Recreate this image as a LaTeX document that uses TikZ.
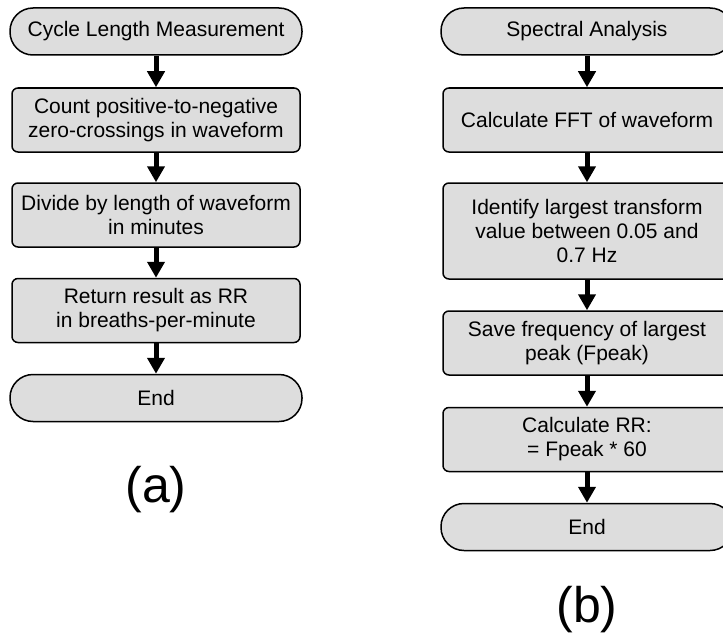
\documentclass[tikz,border=0pt]{standalone}
\usepackage{fontspec}
\setmainfont{Liberation Sans}
\usepackage{tikz}
\usetikzlibrary{positioning,arrows.meta}
\definecolor{boxgray}{RGB}{221,221,221}

\begin{document}
\begin{tikzpicture}[x=1pt,y=-1pt,>={Triangle[width=17pt,length=16pt]},
    blk/.style={draw,fill=boxgray,line width=1.5pt,rounded corners=6pt,minimum width=288pt,
      minimum height=64pt,align=center,inner sep=2pt,font=\fontsize{21}{24}\selectfont},
    term/.style={draw,fill=boxgray,line width=1.5pt,rounded corners=23pt,minimum width=292pt,
      minimum height=47pt,inner sep=2pt,font=\fontsize{21}{24}\selectfont},
    flow/.style={->,line width=5pt},
    lbl/.style={font=\fontsize{50}{56}\selectfont}]
  \useasboundingbox (0,0) rectangle (723,634);
  \clip (0,0) rectangle (723,634);
  % (a) cycle length
  \node[term] (cs) at (156,31.5) {Cycle Length Measurement};
  \node[blk] (cnt) at (156,120) {Count positive-to-negative\\zero-crossings in waveform};
  \node[blk] (dv) at (156,215) {Divide by length of waveform\\in minutes};
  \node[blk] (ret) at (156,310.5) {Return result as RR\\in breaths-per-minute};
  \node[term] (ce) at (156,398) {End};
  \node[lbl] (la) at (156,490) {(a)};
  \draw[flow] (cs) -- (cnt); \draw[flow] (cnt) -- (dv);
  \draw[flow] (dv) -- (ret); \draw[flow] (ret) -- (ce);
  % (b) spectral analysis
  \node[term] (ss) at (587,31.5) {Spectral Analysis};
  \node[blk] (fft) at (587,120) {Calculate FFT of waveform};
  \node[blk,minimum height=96pt] (id) at (587,231) {Identify largest transform\\value between 0.05 and\\0.7 Hz};
  \node[blk] (sv) at (587,343) {Save frequency of largest\\peak (Fpeak)};
  \node[blk] (rr) at (587,439.5) {Calculate RR:\\= Fpeak * 60};
  \node[term] (se) at (587,527) {End};
  \node[lbl] (lb) at (587,610) {(b)};
  \draw[flow] (ss) -- (fft); \draw[flow] (fft) -- (id);
  \draw[flow] (id) -- (sv); \draw[flow] (sv) -- (rr);
  \draw[flow] (rr) -- (se);
\end{tikzpicture}
\end{document}
